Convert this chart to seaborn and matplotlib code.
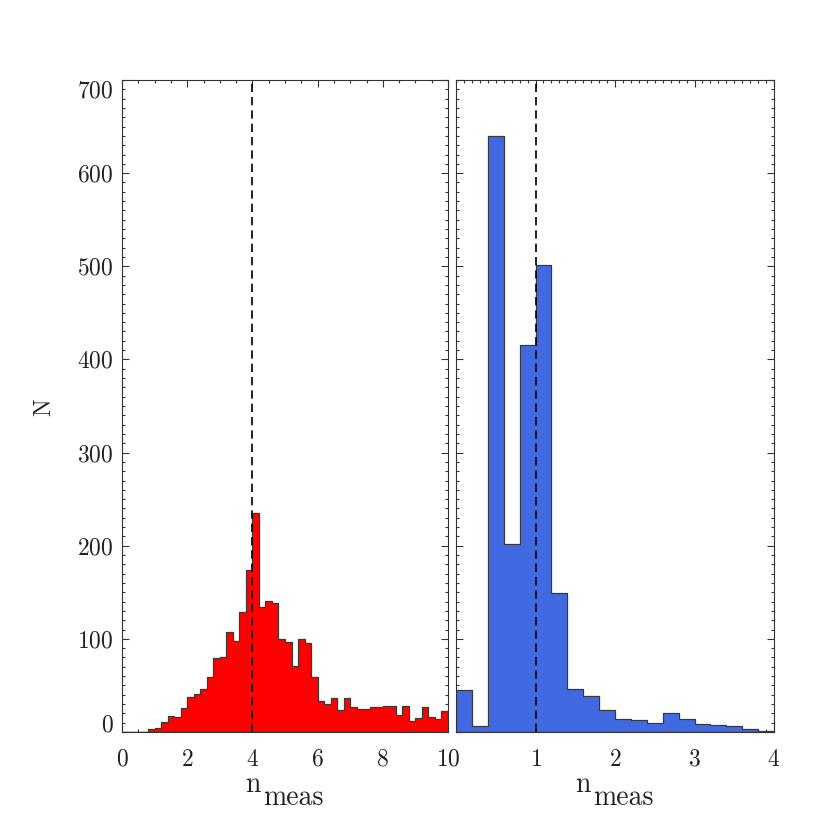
import numpy as np
import pandas as pd
import matplotlib
matplotlib.use("Agg")
import matplotlib.pyplot as plt
import seaborn as sns
from matplotlib.ticker import MultipleLocator

# histogram counts (bin width 0.2)
left_counts = [0, 0, 0, 0, 3, 4, 11, 17, 16, 26,
               38, 41, 46, 59, 79, 81, 107, 98, 129, 174,
               235, 134, 141, 138, 100, 97, 71, 100, 96, 59,
               33, 30, 37, 24, 36, 27, 25, 25, 27, 27,
               28, 28, 18, 28, 12, 15, 27, 16, 14, 23]
right_counts = [45, 6, 640, 202, 415, 501, 149, 46, 39, 24,
                14, 13, 10, 20, 14, 9, 8, 6, 3, 1]
bin_width = 0.2
left_range = (0, 10)
right_range = (0, 4)
left_marker = 4
right_marker = 1

sns.set_style("ticks")
plt.rcParams["font.family"] = ["cmr10", "DejaVu Serif"]
plt.rcParams["mathtext.fontset"] = "cm"
plt.rcParams["axes.formatter.use_mathtext"] = True
plt.rcParams["axes.unicode_minus"] = False

txt = "#222222"
W = 814

def make_df(counts, lo):
    centers = lo + bin_width * (np.arange(len(counts)) + 0.5)
    return pd.DataFrame({"n_meas": centers, "N": counts})

fig = plt.figure(figsize=(8.14, 8.14), dpi=100)
ax1 = fig.add_axes([122/W, 82/W, 326/W, 652/W])
ax2 = fig.add_axes([456/W, 82/W, 318/W, 652/W])

panels = [
    (ax1, left_counts, left_range, "#ff0000", left_marker, 2, 0.5, 285),
    (ax2, right_counts, right_range, "#4169e1", right_marker, 1, 0.1, 615),
]
for ax, counts, rng, col, mark, major, minor, xc in panels:
    df = make_df(counts, rng[0])
    sns.histplot(data=df, x="n_meas", weights="N", binwidth=bin_width,
                 binrange=rng, element="step", fill=True, color=col,
                 alpha=1, edgecolor="#3a3a3a", linewidth=0.9, ax=ax)
    ax.axvline(mark, color="black", ls=(0, (5, 3)), lw=1.2)
    ax.set_xlim(*rng)
    ax.set_ylim(0, 700)
    ax.xaxis.set_major_locator(MultipleLocator(major))
    ax.xaxis.set_minor_locator(MultipleLocator(minor))
    ax.yaxis.set_major_locator(MultipleLocator(100))
    ax.yaxis.set_minor_locator(MultipleLocator(10))
    ax.tick_params(which="both", direction="in", top=True, right=True,
                   colors="#333333", labelcolor=txt, labelsize=17, width=0.8)
    ax.tick_params(which="major", length=5)
    ax.tick_params(which="minor", length=2.5)
    ax.tick_params(axis="x", pad=12)
    ax.tick_params(axis="y", pad=6)
    for s in ax.spines.values():
        s.set_color("#333333")
        s.set_linewidth(0.8)
    ax.set_xlabel("")
    ax.set_ylabel("")
    # x label: "n" with a lowered, full-size "meas"
    fig.text((xc - 40) / W, (W - 792) / W, "n", fontsize=20, color=txt,
             ha="left", va="baseline")
    fig.text((xc - 22) / W, (W - 805) / W, "meas", fontsize=20, color=txt,
             ha="left", va="baseline")

fig.text(44 / W, (W - 407) / W, "N", fontsize=17, color=txt, rotation=90,
         ha="center", va="center")

ax1.set_yticks(range(0, 701, 100))
ylabs = ax1.get_yticklabels()
ylabs[0].set_va("baseline")
ylabs[-1].set_va("top")

ax2.set_yticklabels([])
ax2.set_xticks([1, 2, 3, 4])

fig.savefig("out.png", dpi=100, facecolor="white")
